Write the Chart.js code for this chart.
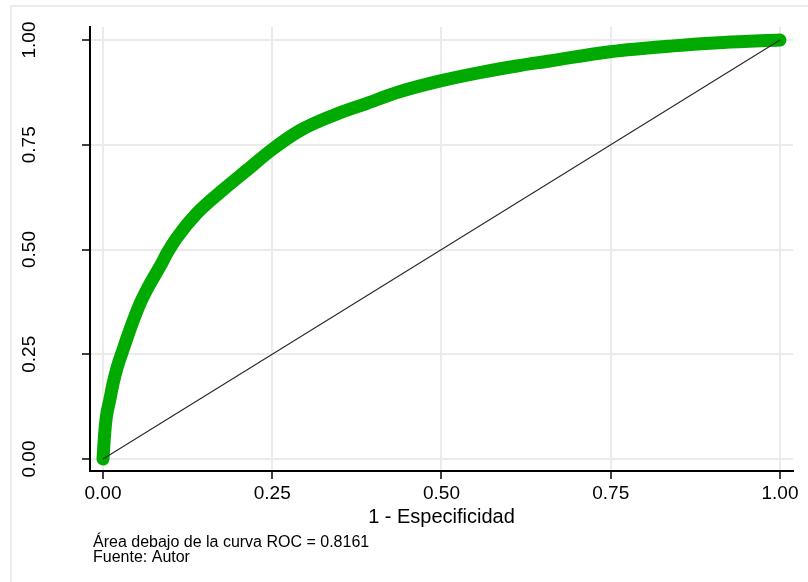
<!DOCTYPE html>
<html>
<head>
<meta charset="utf-8">
<script src="https://cdn.jsdelivr.net/npm/chart.js@4.4.1/dist/chart.umd.min.js"></script>
<style>
  html, body { margin: 0; padding: 0; background: #fff; overflow: hidden; }
  #wrap { position: relative; width: 808px; height: 582px; }
  #frame { position: absolute; left: 10px; top: 5px; width: 900px; height: 700px; border: 2px solid #ececec; }
  canvas { position: absolute; left: 0; top: 0; }
</style>
</head>
<body>
<div id="wrap">
  <div id="frame"></div>
  <canvas id="roc" width="808" height="582"></canvas>
</div>
<script>
// ROC curve
const fpr = [0, 0.0025, 0.005, 0.01, 0.015, 0.021, 0.029, 0.037, 0.046, 0.055, 0.068, 0.084, 0.096, 0.109, 0.139, 0.177, 0.213, 0.25, 0.291, 0.34, 0.39, 0.439, 0.5, 0.562, 0.611, 0.66, 0.749, 0.842, 0.916, 1];
const tpr = [0, 0.061, 0.101, 0.141, 0.181, 0.219, 0.258, 0.296, 0.336, 0.372, 0.414, 0.459, 0.495, 0.528, 0.587, 0.642, 0.69, 0.739, 0.784, 0.82, 0.849, 0.877, 0.903, 0.924, 0.938, 0.95, 0.972, 0.986, 0.994, 1];
const refLine = [0, 1];
const xTicks = [0, 0.25, 0.5, 0.75, 1];
const yTicks = [0, 0.25, 0.5, 0.75, 1];
const xTitle = "1 - Especificidad";
const notes = ["Área debajo de la curva ROC = 0.8161", "Fuente: Autor"];

const FONT = "'Liberation Sans', Arial, sans-serif";

// y labels are drawn turned, like Stata does
const yLabels = {
  id: "yLabels",
  afterDraw(chart) {
    const ctx = chart.ctx;
    const ys = chart.scales.y;
    ctx.save();
    ctx.fillStyle = "#000";
    ctx.font = "19px " + FONT;
    ctx.textAlign = "center";
    ctx.textBaseline = "middle";
    yTicks.forEach((v) => {
      ctx.save();
      ctx.translate(29.5, ys.getPixelForValue(v));
      ctx.rotate(-Math.PI / 2);
      ctx.fillText(v.toFixed(2), 0, 0);
      ctx.restore();
    });
    ctx.restore();
  },
};

const noteText = {
  id: "noteText",
  afterDraw(chart) {
    const ctx = chart.ctx;
    ctx.save();
    ctx.fillStyle = "#000";
    ctx.font = "16px " + FONT;
    ctx.textAlign = "left";
    ctx.textBaseline = "alphabetic";
    const left = chart.chartArea.left + 3;
    notes.forEach((t, i) => ctx.fillText(t, left, 547 + i * 15));
    ctx.restore();
  },
};

new Chart(document.getElementById("roc"), {
  type: "line",
  data: {
    datasets: [
      {
        label: "Referencia",
        data: refLine.map((v) => ({ x: v, y: v })),
        borderColor: "#2b2b2b",
        borderWidth: 1.2,
        pointRadius: 0,
        fill: false,
      },
      {
        label: "ROC",
        data: fpr.map((v, i) => ({ x: v, y: tpr[i] })),
        borderColor: "#00aa00",
        borderWidth: 13,
        borderCapStyle: "round",
        borderJoinStyle: "round",
        cubicInterpolationMode: "monotone",
        pointRadius: 0,
        fill: false,
      },
    ],
  },
  options: {
    responsive: false,
    animation: false,
    layout: { padding: { left: 0, top: 27, right: 15, bottom: 53 } },
    plugins: { legend: { display: false }, tooltip: { enabled: false } },
    scales: {
      x: {
        type: "linear",
        min: -0.0192,
        max: 1.0192,
        afterBuildTicks: (s) => { s.ticks = xTicks.map((v) => ({ value: v })); },
        afterFit: (s) => { s.height = 58; },
        ticks: {
          autoSkip: false,
          maxRotation: 0,
          padding: 3,
          color: "#000",
          font: { family: FONT, size: 19 },
          callback: (v) => Number(v).toFixed(2),
        },
        grid: { color: "#ebebeb", lineWidth: 2, tickColor: "#000", tickLength: 8, tickWidth: 1.5 },
        border: { color: "#000", width: 2 },
        title: { display: true, text: xTitle, color: "#000", font: { family: FONT, size: 20 }, padding: { top: 0, bottom: 0 } },
      },
      y: {
        type: "linear",
        min: -0.02864,
        max: 1.03103,
        afterBuildTicks: (s) => { s.ticks = yTicks.map((v) => ({ value: v })); },
        afterFit: (s) => { s.width = 90; },
        ticks: { display: false },
        grid: { color: "#ebebeb", lineWidth: 2, tickColor: "#000", tickLength: 8, tickWidth: 1.5 },
        border: { color: "#000", width: 2 },
      },
    },
  },
  plugins: [yLabels, noteText],
});
</script>
</body>
</html>
